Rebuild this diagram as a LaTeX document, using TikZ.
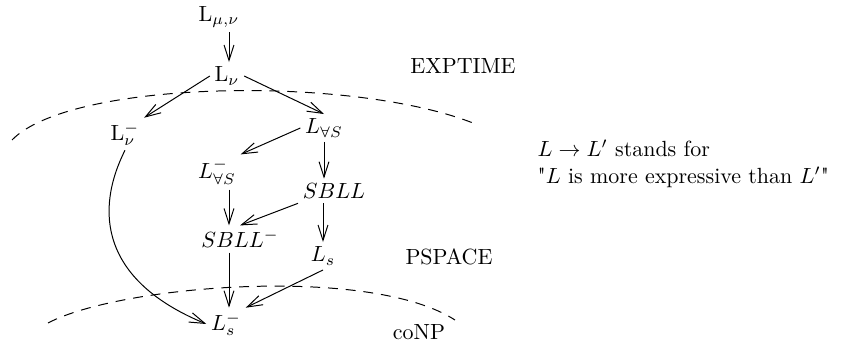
\documentclass[tikz,border=0pt]{standalone}
\usepackage{amsmath,amssymb}
\usepackage{tikz}
\usetikzlibrary{arrows.meta,positioning}

\begin{document}
\begin{tikzpicture}[
  x=0.016cm, y=-0.016cm,
  lang/.style={inner sep=2pt},
  cls/.style={inner sep=1pt},
  arrow/.style={-{Straight Barb[length=7pt,width=4.5pt]}, line width=0.45pt},
  border/.style={dashed, dash pattern=on 4.5pt off 3.6pt, line width=0.45pt},
]
  \useasboundingbox (0,0) rectangle (842,345);

  % languages
  \node[lang] (lmn) at (219,17) {L$_{\mu,\nu}$};
  \node[lang] (lnu) at (227,76) {L$_\nu$};
  \node[lang] (lneg) at (125,134) {L$_\nu^-$};
  \node[lang] (lvs) at (324,128) {$L_{\forall S}$};
  \node[lang] (lnvs) at (217,172) {$L_{\forall S}^-$};
  \node[lang] (sbll) at (334,191) {$SBLL$};
  \node[lang] (sbln) at (240,239) {$SBLL^-$};
  \node[lang] (ls) at (323,256) {$L_s$};
  \node[lang] (lns) at (226,324) {$L_s^-$};
  \coordinate (mid) at (229,0);

  % complexity classes
  \node[cls] (exp) at (463,66) {EXPTIME};
  \node[cls] (psp) at (449,257) {PSPACE};
  \node[cls] (conp) at (419,332) {coNP};
  \node[cls, anchor=west, align=left] (legend) at (535,164)
    {$L \rightarrow L'$ stands for\\\textquotedbl$L$ is more expressive than $L'$\textquotedbl};

  \draw[border] (12,140) .. controls (70,80) and (350,75) .. (473,123);
  \draw[border] (48,323) .. controls (120,285) and (370,265) .. (455,320);

  \draw[arrow] (lmn.south -| mid) -- (lnu.north -| mid);
  \draw[arrow] (lnu.west) -- (lneg.north east);
  \draw[arrow] (lnu.east) -- (lvs.north);
  \draw[arrow] (lvs.west) -- (lnvs.north east);
  \draw[arrow] (lvs.south) -- (lvs |- sbll.north);
  \draw[arrow] (lnvs.south -| mid) -- (sbln.north -| mid);
  \draw[arrow] (sbll.south west) -- (sbln.north);
  \draw[arrow] (sbll.south -| ls) -- (ls);
  \draw[arrow] (sbln.south -| mid) -- (lns.north -| mid);
  \draw[arrow] (ls.south) -- (lns.north east);
  \draw[arrow] (lneg.south) .. controls (95,210) and (100,280) .. (lns.west);
\end{tikzpicture}
\end{document}
